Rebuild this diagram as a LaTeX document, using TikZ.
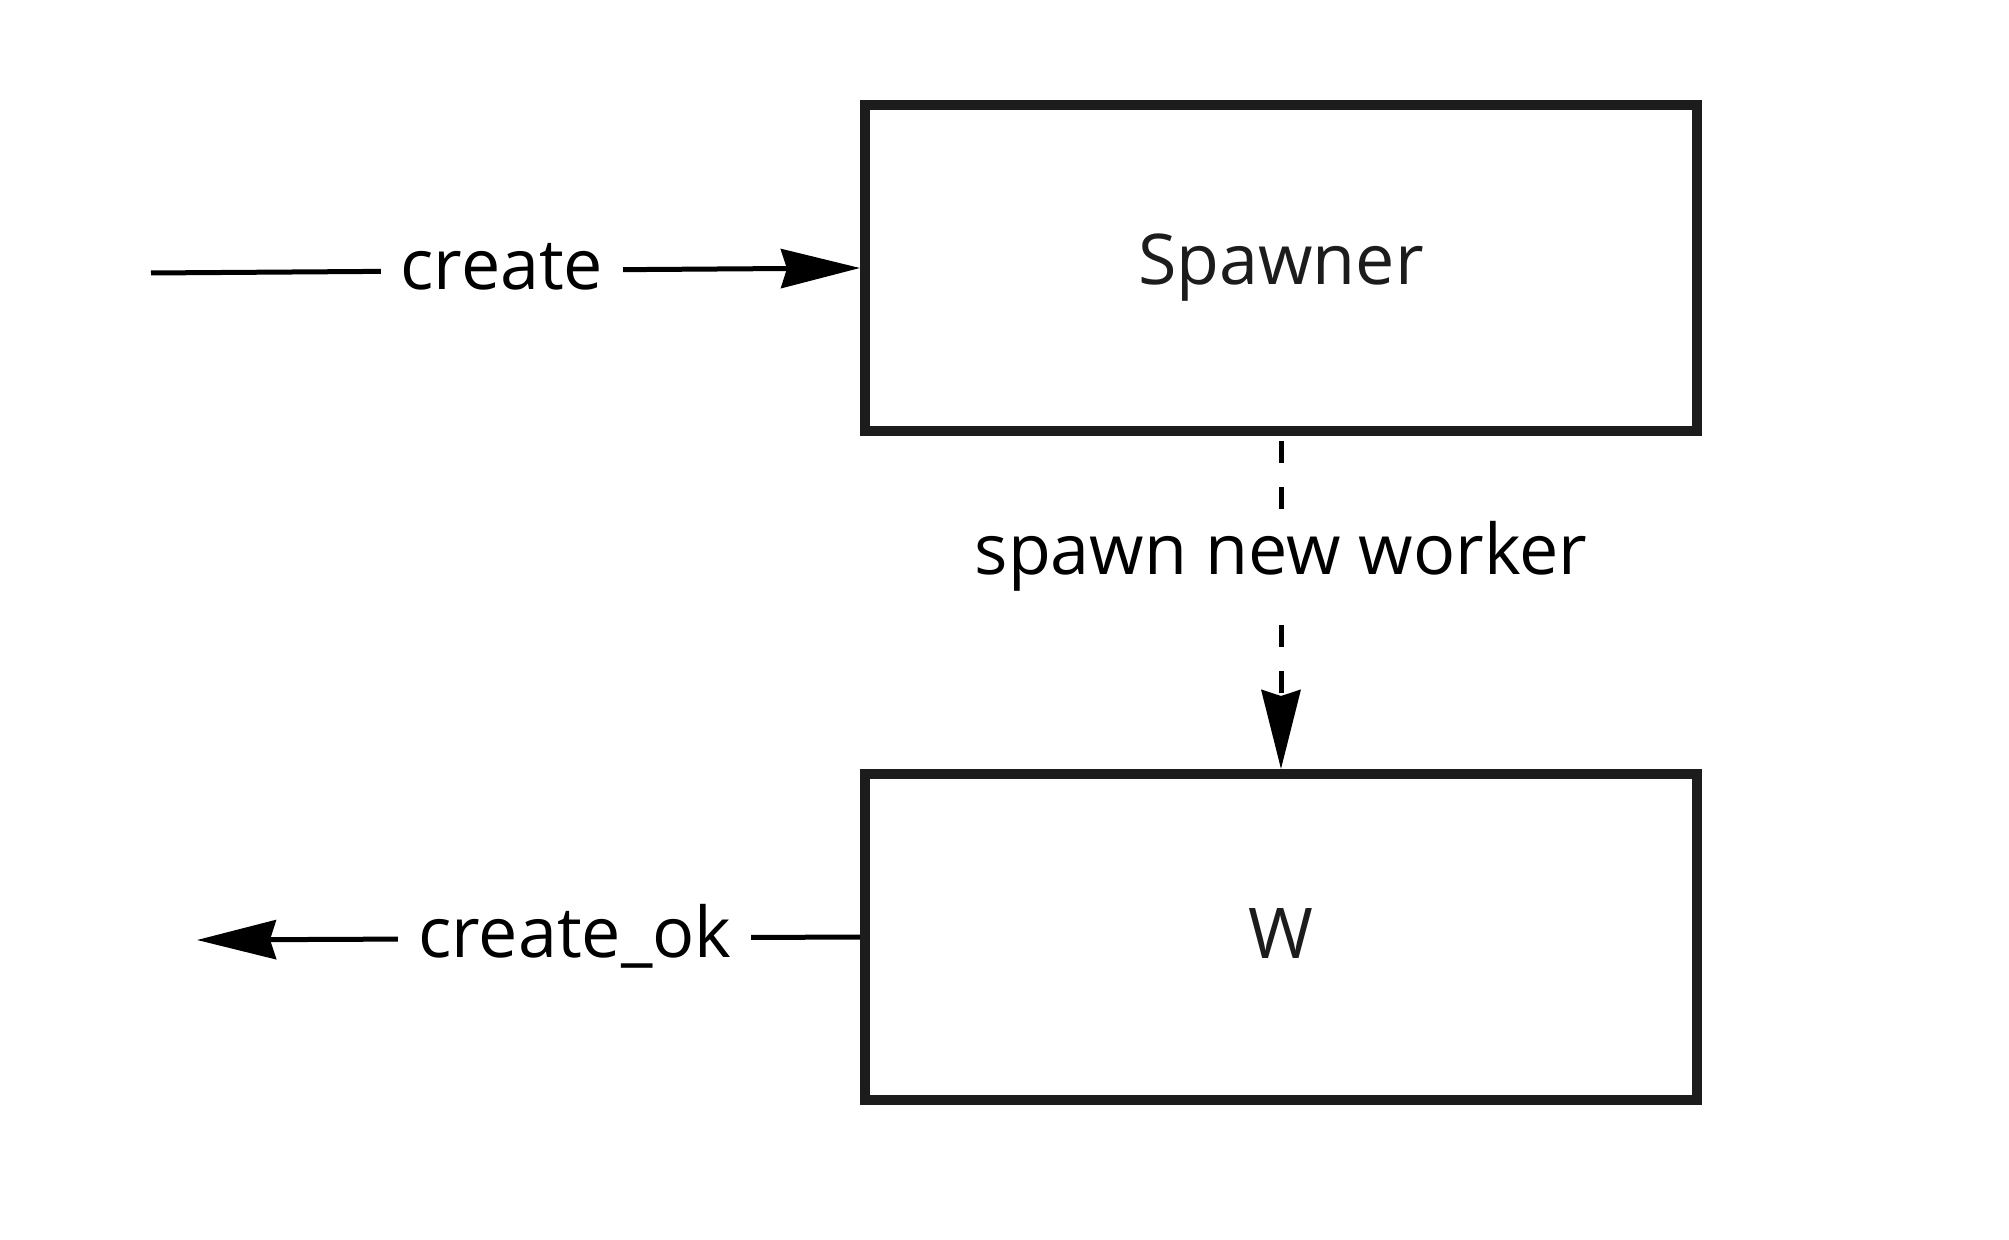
\documentclass[tikz,border=0pt]{standalone}
\usepackage{fontspec}
\setmainfont{Open Sans}
\usetikzlibrary{arrows.meta}
\definecolor{boxc}{HTML}{1C1C1C}
\begin{document}
\begin{tikzpicture}[x=0.5pt,y=-0.5pt,
  box/.style={draw=boxc, line width=5pt, minimum width=416pt, minimum height=163pt,
    inner sep=0pt, font=\fontsize{35}{40}\selectfont, text=boxc},
  conn/.style={line width=2.5pt, draw=black,
    -{Stealth[length=39.5pt, width=19.5pt, inset=3pt]}},
  lbl/.style={fill=white, inner xsep=10pt, inner ysep=4pt, text=black,
    font=\fontsize{35}{40}\selectfont},
  dashline/.style={dash pattern=on 11pt off 12pt}]
\useasboundingbox (0,0) rectangle (2009,1240);
\fill[white] (0,0) rectangle (2009,1240);

\node[box] (spawner) at (1281,268) {Spawner};
\node[box] (w) at (1281,937) {\raisebox{3pt}{W}};

\coordinate (cin) at (151,273);
\coordinate (cout) at (197,940);

\draw[conn] (cin) -- node[lbl, pos=0.495, yshift=2pt] {create} (spawner.west);
\draw[conn] (w.west) -- node[lbl, pos=0.43, yshift=1pt] {create\_ok} (cout);
\draw[conn, dashline, shorten <=2.5pt] (spawner.south) -- node[lbl, pos=0.36, inner ysep=6pt] {spawn new worker} (w.north);
\end{tikzpicture}
\end{document}
